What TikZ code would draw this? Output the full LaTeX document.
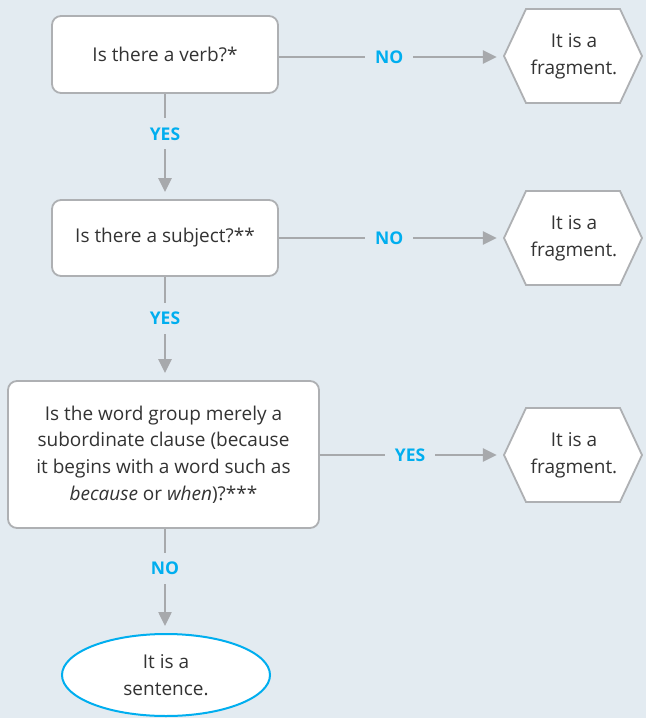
\documentclass[tikz,border=0pt]{standalone}
\usepackage{fontspec}
\setmainfont{Open Sans}
\usetikzlibrary{arrows.meta,calc,shapes.geometric}
\definecolor{bg}{HTML}{E3EBF1}
\definecolor{boxgray}{HTML}{AEB0B3}
\definecolor{arrgray}{HTML}{A7A9AC}
\definecolor{cyanlab}{HTML}{00AEEF}
\definecolor{txt}{HTML}{333333}
\begin{document}
\begin{tikzpicture}[x=1pt,y=-1pt,
  box/.style={draw=boxgray, line width=1.8pt, fill=white, rounded corners=9pt,
    align=center, text=txt, font=\fontsize{19}{26.8}\selectfont, inner sep=0pt},
  hexnode/.style={align=center, text=txt, font=\fontsize{19}{26.8}\selectfont,
    minimum width=140pt, minimum height=92pt, inner sep=0pt},
  hexdraw/.style={draw=boxgray, line width=1.8pt, fill=white},
  lab/.style={fill=bg, text=cyanlab, font=\fontsize{17.5}{17.5}\selectfont\bfseries,
    inner xsep=10pt, inner ysep=9pt},
  conn/.style={draw=arrgray, line width=2.5pt, -{Triangle[length=14pt,width=13pt]}}
]
\useasboundingbox (0,0) rectangle (646,718);
\fill[bg] (0,0) rectangle (646,718);

% decision boxes
\node[box, minimum width=226pt, minimum height=77pt] (b1) at (165,54.5) {Is there a verb?*};
\node[box, minimum width=226pt, minimum height=76pt] (b2) at (165,238) {Is there a subject?**};
\node[box, minimum width=311pt, minimum height=147pt] (b3) at (163.5,454.5)
  {Is the word group merely a\\subordinate clause (because\\it begins with a word such as\\\textit{because} or \textit{when})?***};
\node[draw=cyanlab, line width=2pt, fill=white, ellipse, minimum width=208pt, minimum height=82pt,
  inner sep=0pt, align=center, text=txt, font=\fontsize{19}{26.8}\selectfont] (end) at (166,675)
  {It is a\\sentence.};

% hexagons
\foreach \n/\y in {h1/56,h2/238,h3/455}{
  \coordinate (\n c) at (574,\y);
  \draw[hexdraw] ($(\n c)+(-70,0)$) -- ($(\n c)+(-48,-47)$) -- ($(\n c)+(46,-47)$) -- ($(\n c)+(68,0)$)
    -- ($(\n c)+(46,47)$) -- ($(\n c)+(-48,47)$) -- cycle;
}
\node[hexnode] (h1) at (h1c) {It is a\\fragment.};
\node[hexnode] (h2) at (h2c) {It is a\\fragment.};
\node[hexnode] (h3) at (h3c) {It is a\\fragment.};

% connectors
\draw[conn, shorten >=7pt] (b1.east |- 0,57) -- node[lab, pos=0.49] {NO} (h1.west |- 0,57);
\draw[conn, shorten >=7pt] (b2.east) -- node[lab, pos=0.49] {NO} (h2.west);
\draw[conn, shorten >=7pt] (b3.east |- h3.west) -- node[lab, pos=0.49] {YES} (h3.west);
\draw[conn, shorten >=7pt] (b1.south) -- node[lab, pos=0.38] {YES} (b2.north);
\draw[conn, shorten >=7pt] (b2.south) -- node[lab, pos=0.40] {YES} (b2.south |- b3.north);
\draw[conn, shorten >=7pt] (b3.south -| b2.south) -- node[lab, pos=0.38] {NO} (b2.south |- end.north);
\end{tikzpicture}
\end{document}
